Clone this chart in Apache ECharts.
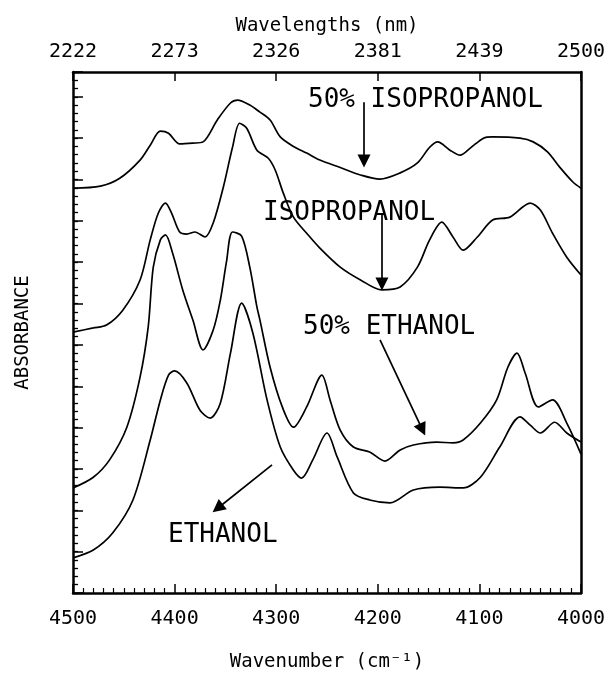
<!DOCTYPE html>
<html><head><meta charset="utf-8">
<script src="https://cdn.jsdelivr.net/npm/echarts@6/dist/echarts.min.js"></script>
<style>html,body{margin:0;padding:0;background:#fff}#c{width:605px;height:679px}</style>
</head><body><div id="c"></div>
<script>
// ---- axis tick labels ----
const wnTicks = [4500, 4400, 4300, 4200, 4100, 4000];
const nmLabels = ['2222', '2273', '2326', '2381', '2439', '2500'];

// ---- 50% ISOPROPANOL ----
const ipa50Wn = [4500,4473,4454,4434,4424,4414,4406,4395,4382,4372,4358,4345,4338,4326,4316,4306,4296,4283,4270,4257,4237,4217,4198,4178,4161,4149,4141,4129,4119,4109,4096,4087,4060,4047,4033,4021,4008,4000];
const ipa50Abs = [97.9,98.4,100.3,104.7,108.3,111.7,111.2,108.6,108.8,109.1,114.4,118.5,119.2,118.0,116.3,114.4,110.3,108.0,106.4,104.7,102.9,101.1,100.1,101.6,104.0,107.8,109.1,107.1,105.9,107.6,110.0,110.3,110.0,109.1,106.7,103.0,99.4,97.9];

// ---- ISOPROPANOL ----
const ipaWn = [4500,4480,4467,4451,4434,4424,4416,4409,4403,4395,4388,4380,4370,4362,4352,4343,4336,4329,4319,4308,4301,4293,4283,4270,4257,4237,4217,4196,4178,4161,4149,4137,4126,4116,4102,4087,4070,4050,4040,4028,4014,4000];
const ipaAbs = [63.1,64.1,64.8,68.4,75.7,85.4,91.9,94.3,91.9,87.3,86.8,87.3,86.1,89.5,98.2,107.8,113.6,112.4,107.1,105.2,102.3,96.7,90.9,87.0,83.4,78.8,75.7,73.3,74.0,78.8,85.4,89.7,86.1,82.9,86.1,90.2,90.9,94.3,92.6,87.0,81.2,76.9];

// ---- 50% ETHANOL ----
const eth50Wn = [4500,4480,4464,4447,4434,4426,4421,4414,4409,4402,4392,4382,4372,4362,4355,4349,4343,4334,4326,4319,4316,4306,4294,4283,4270,4255,4247,4237,4224,4208,4193,4178,4165,4142,4126,4116,4099,4083,4072,4063,4055,4042,4028,4014,4000];
const eth50Abs = [25.4,28.0,32.2,40.1,52.2,64.3,78.8,85.4,86.6,82.2,73.3,66.0,58.8,63.6,70.8,80.0,87.3,86.3,78.8,69.2,66.0,54.6,45.0,40.1,45.0,52.7,46.7,39.4,35.3,34.1,31.9,34.6,35.8,36.5,36.3,37.0,41.1,46.7,54.6,58.0,53.2,45.0,46.7,41.1,33.6];

// ---- ETHANOL ----
const ethWn = [4500,4480,4461,4441,4424,4414,4406,4400,4388,4375,4365,4355,4345,4334,4323,4309,4296,4283,4275,4264,4250,4240,4224,4208,4188,4165,4139,4116,4099,4080,4060,4050,4040,4026,4014,4000];
const ethAbs = [8.5,10.4,14.5,22.5,37.0,46.7,52.7,53.7,50.8,44.2,42.3,45.9,58.0,70.1,62.9,46.7,35.3,29.7,27.8,32.2,38.7,32.9,24.2,22.5,21.8,24.9,25.6,25.4,28.0,35.3,42.6,40.6,38.7,41.3,38.7,36.5];

// ---- annotation labels (text, anchor in data coords) ----
const noteTexts = ['50% ISOPROPANOL', 'ISOPROPANOL', '50% ETHANOL', 'ETHANOL'];
const noteAnchors = [[4268.7, 119.2], [4313, 91.9], [4273.6, 64.3], [4406.5, 14.0]];
// ---- arrows (from, to) in data coords ----
const arrowFrom = [[4213.6, 118.7], [4195.9, 91.4], [4197.8, 61.2], [4304.1, 31.0]];
const arrowTo   = [[4213.6, 104.5], [4195.9, 74.7], [4156.1, 39.5], [4357.6, 20.5]];

const FONT = 'DejaVu Sans Mono';
const BLACK = '#000';
const chart = echarts.init(document.getElementById('c'), null, {renderer: 'canvas'});
const pairs = (w, a) => w.map((x, i) => [x, a[i]]);
const curve = (name, w, a) => ({
  name, type: 'line', data: pairs(w, a), showSymbol: false, smooth: 0.3,
  xAxisIndex: 0, yAxisIndex: 0, lineStyle: {color: BLACK, width: 1.7}, z: 3, silent: true
});
const axisLine = {show: true, onZero: false, lineStyle: {color: BLACK, width: 2.5}};

const option = {
  animation: false,
  backgroundColor: '#fff',
  grid: {left: 73, right: 24, top: 72, bottom: 86, show: false, containLabel: false, outerBoundsMode: 'none'},
  xAxis: [
    {type: 'value', position: 'bottom', min: 4000, max: 4500, interval: 100, inverse: true,
     axisLine, axisTick: {inside: true, length: 9, lineStyle: {color: BLACK, width: 1.5}},
     minorTick: {show: true, splitNumber: 10, length: 5, lineStyle: {color: BLACK, width: 1.2}},
     splitLine: {show: false},
     axisLabel: {fontFamily: FONT, fontSize: 20, color: BLACK, margin: 16, showMinLabel: true, showMaxLabel: true,
                 formatter: v => String(v)},
     name: 'Wavenumber (cm⁻¹)', nameLocation: 'middle', nameGap: 60,
     nameTextStyle: {fontFamily: FONT, fontSize: 19, color: BLACK}},
    {type: 'value', position: 'top', min: 4000, max: 4500, interval: 100, inverse: true,
     axisLine, axisTick: {inside: true, length: 9, lineStyle: {color: BLACK, width: 1.5}},
     splitLine: {show: false},
     axisLabel: {fontFamily: FONT, fontSize: 20, color: BLACK, margin: 10, showMinLabel: true, showMaxLabel: true,
                 formatter: v => nmLabels[wnTicks.indexOf(v)]},
     name: 'Wavelengths (nm)', nameLocation: 'middle', nameGap: 36,
     nameTextStyle: {fontFamily: FONT, fontSize: 19, color: BLACK}}
  ],
  yAxis: [
    {type: 'value', position: 'left', min: 0, max: 126, interval: 2,
     axisLine, axisTick: {inside: true, length: 5, lineStyle: {color: BLACK, width: 1.3}},
     axisLabel: {show: false}, splitLine: {show: false},
     name: 'ABSORBANCE', nameLocation: 'middle', nameGap: 40, nameRotate: 90,
     nameTextStyle: {fontFamily: FONT, fontSize: 19, color: BLACK}},
    {type: 'value', position: 'left', offset: 0, min: 0, max: 126, interval: 10,
     axisLine: {show: false}, axisTick: {inside: true, length: 10, lineStyle: {color: BLACK, width: 1.5}},
     axisLabel: {show: false}, splitLine: {show: false}},
    {type: 'value', position: 'right', min: 0, max: 126,
     axisLine, axisTick: {show: false}, axisLabel: {show: false}, splitLine: {show: false}}
  ],
  series: [
    curve('50% ISOPROPANOL', ipa50Wn, ipa50Abs),
    curve('ISOPROPANOL', ipaWn, ipaAbs),
    curve('50% ETHANOL', eth50Wn, eth50Abs),
    curve('ETHANOL', ethWn, ethAbs),
    {type: 'line', data: [], xAxisIndex: 0, yAxisIndex: 0, silent: true,
     markLine: {
       silent: true, animation: false,
       symbol: ['none', 'triangle'], symbolSize: 13,
       label: {show: false},
       lineStyle: {color: BLACK, width: 1.7, type: 'solid'},
       itemStyle: {color: BLACK},
       emphasis: {disabled: true},
       data: arrowFrom.map((f, i) => [{coord: f}, {coord: arrowTo[i]}])
     }}
  ]
};
chart.setOption(option);

const graphics = noteTexts.map((t, i) => {
  const p = chart.convertToPixel({xAxisIndex: 0, yAxisIndex: 0}, noteAnchors[i]);
  return {type: 'text', x: p[0], y: p[1], z: 10, silent: true,
          style: {text: t, fill: BLACK, font: '26px "DejaVu Sans Mono"', textAlign: 'left', textVerticalAlign: 'middle'}};
});
chart.setOption({graphic: graphics});
</script>
</body></html>
